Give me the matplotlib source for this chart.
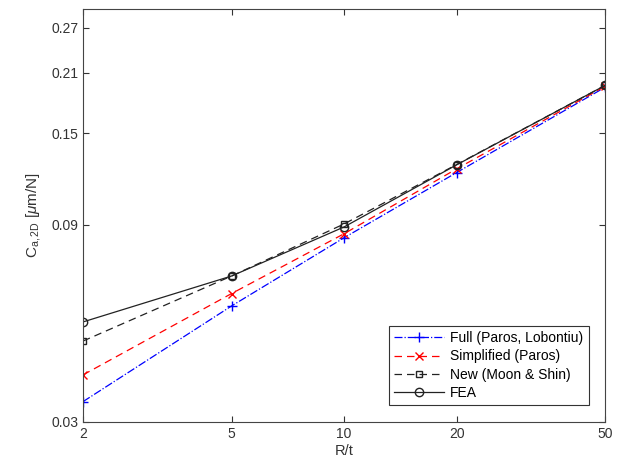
import matplotlib.pyplot as plt
from matplotlib.ticker import FixedLocator, NullLocator

plt.rcParams["font.family"] = ["Liberation Sans", "DejaVu Sans"]
plt.rcParams["mathtext.fontset"] = "custom"
plt.rcParams["mathtext.rm"] = "Liberation Sans"
plt.rcParams["mathtext.it"] = "Liberation Sans:italic"

r_over_t = [2, 5, 10, 20, 50]
full_paros = [0.0336, 0.0573, 0.0838, 0.1205, 0.194]
simplified = [0.0390, 0.0614, 0.0857, 0.1230, 0.195]
new_moon = [0.0471, 0.0677, 0.0905, 0.1260, 0.196]
fea = [0.0524, 0.0677, 0.0890, 0.1258, 0.196]

x_ticks = [2, 5, 10, 20, 50]
y_ticks = [0.03, 0.09, 0.15, 0.21, 0.27]

fig = plt.figure(figsize=(6.24, 4.72), dpi=100)
ax = fig.add_axes([0.133, 0.106, 0.837, 0.875])

ax.plot(r_over_t, full_paros, color="blue", linestyle="-.", marker="+",
        markersize=7, linewidth=0.9, label="Full (Paros, Lobontiu)")
ax.plot(r_over_t, simplified, color="red", linestyle="--", marker="x",
        markersize=6, linewidth=0.9, label="Simplified (Paros)", dashes=(6, 4))
ax.plot(r_over_t, new_moon, color="#222222", linestyle="--", marker="s",
        markersize=5, markerfacecolor="none", linewidth=0.9,
        label="New (Moon & Shin)", dashes=(6, 4))
ax.plot(r_over_t, fea, color="#222222", linestyle="-", marker="o",
        markersize=6, markerfacecolor="none", linewidth=0.9, label="FEA")

ax.set_xscale("log")
ax.set_yscale("log")
ax.set_xlim(2, 50)
ax.set_ylim(0.03, 0.3)
ax.xaxis.set_major_locator(FixedLocator(x_ticks))
ax.yaxis.set_major_locator(FixedLocator(y_ticks))
ax.xaxis.set_minor_locator(NullLocator())
ax.yaxis.set_minor_locator(NullLocator())
ax.set_xticklabels([str(t) for t in x_ticks])
ax.set_yticklabels([f"{t:.2f}" for t in y_ticks])
ax.tick_params(direction="in", top=True, right=True, labelsize=10,
               colors="#333333", length=4)
for s in ax.spines.values():
    s.set_color("#444444")

ax.set_xlabel("R/t", fontsize=10.5, color="#333333", labelpad=2)
ax.set_ylabel(r"C$_{\mathrm{a,2D}}$ [$\mathit{\mu}\mathrm{m/N}$]",
              fontsize=11, color="#333333", labelpad=6)

leg = ax.legend(loc="lower right", fontsize=10, fancybox=False,
                edgecolor="#333333", framealpha=1, borderaxespad=1.2,
                handlelength=3.6, labelspacing=0.3, handletextpad=0.4)
leg.get_frame().set_linewidth(0.8)

fig.savefig("out.png")
